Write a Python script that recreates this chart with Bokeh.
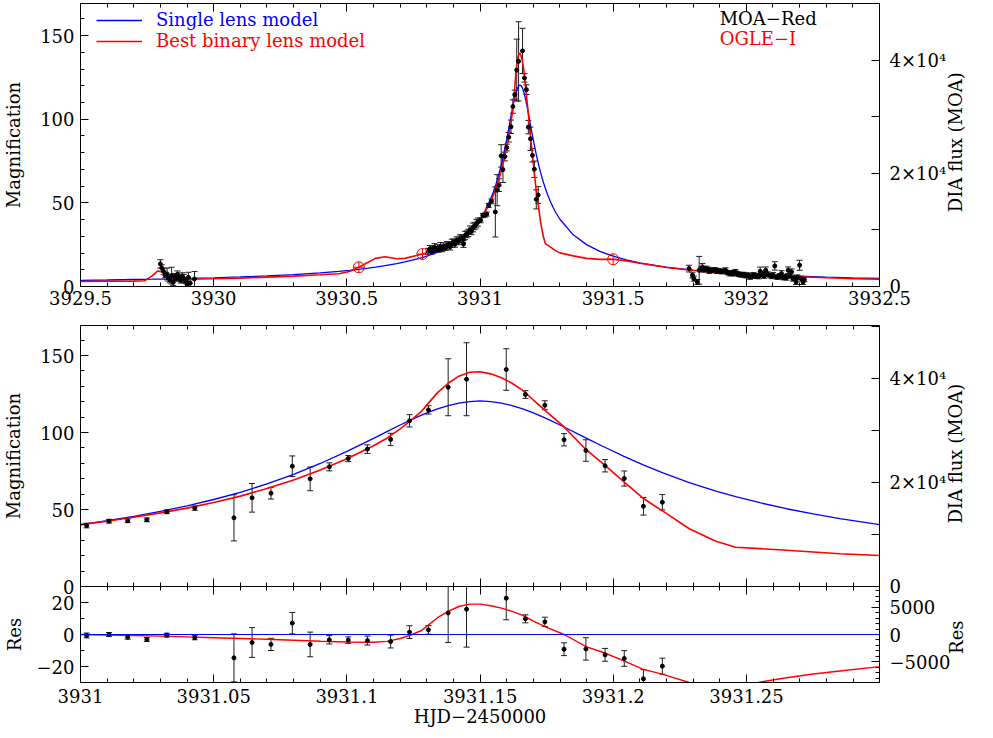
import math
from bokeh.plotting import figure
from bokeh.models import (Range1d, LinearAxis, SingleIntervalTicker, FixedTicker,
                          CustomJSTickFormatter, CustomLabelingPolicy, Whisker, TeeHead,
                          ColumnDataSource, Legend, LegendItem, Label, Span)
from bokeh.layouts import column
from bokeh.embed import file_html
from bokeh.resources import INLINE

FONT = "DejaVu Serif"

# ---------------- data ----------------
# MOA data, left cluster
left_t = [3929.800, 3929.805, 3929.812, 3929.818, 3929.825, 3929.830, 3929.836, 3929.842, 3929.848, 3929.853,
          3929.858, 3929.864, 3929.870, 3929.876, 3929.882, 3929.888, 3929.895, 3929.900, 3929.905, 3929.912, 3929.928]
left_mag = [13.5, 11.0, 9.0, 6.8, 7.5, 5.2, 4.0, 6.5, 2.5, 5.8, 4.6, 7.3, 5.4, 3.6, 6.2, 4.8, 3.2, 1.2, 5.5, 2.0, 4.5]
left_err = [2.5, 2.0, 2.0, 1.5, 3.5, 2.0, 1.8, 5.0, 2.0, 2.0, 1.5, 2.0, 1.5, 1.5, 2.0, 2.5, 1.5, 1.5, 3.0, 2.0, 4.5]

# MOA data, rising part before the peak night
rise_t = [3930.805, 3930.812, 3930.818, 3930.824, 3930.829, 3930.835, 3930.841, 3930.846, 3930.852, 3930.858,
          3930.864, 3930.870, 3930.876, 3930.882, 3930.888, 3930.894, 3930.900, 3930.906, 3930.912, 3930.918,
          3930.924, 3930.930, 3930.936, 3930.938, 3930.944, 3930.950, 3930.956, 3930.962, 3930.968, 3930.974,
          3930.980, 3930.986, 3930.992]
rise_mag = [21.0, 22.5, 20.8, 22.0, 23.4, 21.9, 23.0, 22.1, 23.9, 22.6, 24.1, 23.2, 24.6, 25.0, 23.8, 25.8,
            26.4, 25.3, 27.5, 27.0, 28.4, 29.0, 28.2, 25.4, 30.5, 31.2, 32.0, 33.8, 33.0, 35.3, 36.2, 37.5, 38.5]
rise_err = [1.8, 2.0, 1.5, 1.8, 2.2, 1.6, 2.0, 1.5, 2.4, 1.8, 2.0, 1.6, 2.2, 1.8, 2.0, 2.5, 2.0, 1.8, 2.2,
            2.0, 2.4, 2.0, 1.8, 2.0, 2.5, 2.0, 2.2, 2.4, 2.0, 2.6, 2.2, 2.5, 2.4]

# MOA data around the peak (shown in the zoom panels)
mid_t = [3931.0023, 3931.0107, 3931.0177, 3931.0249, 3931.0324, 3931.0429, 3931.0576, 3931.0644, 3931.0715,
         3931.0795, 3931.0862, 3931.0934, 3931.1005, 3931.1077, 3931.1164, 3931.1235, 3931.1306, 3931.1380,
         3931.1449, 3931.1598, 3931.1670, 3931.1743, 3931.1815, 3931.1897, 3931.1969, 3931.2041, 3931.2113,
         3931.2184]
mid_mag = [39.6, 42.4, 42.7, 43.3, 48.5, 50.9, 44.6, 57.6, 60.6, 78.1, 69.9, 77.7, 83.1, 89.2, 95.5, 107.6,
           114.7, 129.4, 134.6, 140.9, 124.7, 117.7, 95.3, 88.3, 78.4, 70.1, 52.1, 54.7]
mid_err = [1.5, 1.2, 1.2, 1.2, 1.2, 1.4, 15.0, 9.3, 3.8, 6.7, 7.7, 2.6, 2.0, 2.8, 4.0, 4.0, 2.7, 18.5, 23.7,
           13.5, 2.5, 2.9, 4.0, 7.0, 4.0, 4.9, 5.7, 5.0]
mid_res = [-0.6, 0.0, -1.7, -3.1, -0.4, -1.9, -14.6, -5.0, -6.2, 7.1, -6.2, -3.3, -3.5, -3.8, -4.4, 1.5, 2.9,
           13.5, 15.8, 22.7, 9.8, 7.9, -9.2, -9.0, -12.7, -15.0, -27.7, -19.8]

# MOA data, right cluster
right_t = [3931.785, 3931.798, 3931.803, 3931.816, 3931.823, 3931.830, 3931.835, 3931.843, 3931.847, 3931.855,
           3931.860, 3931.866, 3931.872, 3931.878, 3931.885, 3931.890, 3931.896, 3931.903, 3931.908, 3931.915,
           3931.922, 3931.928, 3931.934, 3931.940, 3931.946, 3931.952, 3931.959, 3931.965, 3931.971, 3931.977,
           3931.983, 3931.990, 3931.996, 3932.002, 3932.008, 3932.014, 3932.020, 3932.027, 3932.033, 3932.040,
           3932.046, 3932.052, 3932.058, 3932.064, 3932.067, 3932.073, 3932.080, 3932.089, 3932.095, 3932.101,
           3932.107, 3932.114, 3932.120, 3932.126, 3932.132, 3932.138, 3932.145, 3932.151, 3932.157, 3932.163,
           3932.170, 3932.175, 3932.181, 3932.187, 3932.192, 3932.200, 3932.206, 3932.213, 3932.218]
right_mag = [10.7, 6.7, 4.7, 2.7, 9.7, 10.2, 11.7, 9.8, 10.7, 10.4, 9.1, 9.7, 9.5, 10.0, 9.7, 9.0, 9.3, 9.1,
             8.8, 9.2, 9.7, 8.5, 8.1, 7.7, 8.3, 7.6, 8.7, 7.9, 7.3, 7.1, 6.9, 7.2, 6.7, 6.4, 6.8, 5.7, 6.1,
             7.0, 6.3, 6.6, 5.9, 9.1, 6.9, 7.7, 6.2, 9.7, 7.4, 6.7, 6.0, 6.8, 12.3, 5.6, 5.7, 6.3, 7.7, 5.2,
             6.0, 5.3, 9.7, 6.4, 8.7, 4.7, 5.0, 2.7, 5.6, 12.7, 4.7, 2.7, 4.2]
right_err = [2.0, 1.5, 1.5, 1.5, 8.3, 1.5, 2.0, 1.2, 1.5, 1.3, 1.2, 1.4, 1.2, 1.3, 1.5, 1.2, 1.3, 1.4, 1.2,
             1.3, 1.5, 1.2, 1.3, 1.4, 1.2, 1.3, 1.5, 1.2, 1.3, 1.4, 1.2, 1.3, 1.5, 1.2, 1.3, 1.4, 1.2, 1.3,
             1.5, 1.2, 1.3, 2.5, 1.2, 1.5, 1.3, 2.0, 1.4, 1.2, 1.3, 1.5, 2.5, 1.2, 1.3, 1.4, 1.8, 1.2, 1.3,
             1.5, 2.0, 1.4, 1.8, 1.5, 1.2, 1.5, 1.3, 3.0, 1.5, 1.5, 1.3]

# OGLE-I points
ogle_t = [3930.545, 3930.784, 3931.500]
ogle_mag = [11.5, 19.4, 16.3]

# Models: left wing, peak night, right wing
lw_t = [3929.50, 3929.60, 3929.70, 3929.74, 3929.77, 3929.79, 3929.81, 3929.83, 3929.86, 3929.90, 3930.00,
        3930.10, 3930.20, 3930.30, 3930.40, 3930.47, 3930.51, 3930.545, 3930.58, 3930.607, 3930.644, 3930.687,
        3930.718, 3930.784, 3930.85, 3930.90, 3930.95]
lw_single = [3.7, 3.9, 4.2, 4.3, 4.35, 4.4, 4.45, 4.5, 4.6, 4.8, 5.2, 5.7, 6.3, 7.1, 8.1, 9.1, 9.7, 10.3, 11.0,
             11.6, 12.5, 13.7, 14.7, 17.3, 21.0, 25.0, 30.9]
lw_binary = [3.0, 3.1, 3.2, 3.4, 6.5, 9.3, 8.6, 6.2, 4.5, 4.3, 4.6, 5.0, 5.6, 6.2, 7.0, 7.6, 9.0, 11.5, 14.5,
             16.8, 17.8, 16.6, 16.8, 19.4, 22.4, 25.8, 30.9]

pk_t = [3931.000, 3931.010, 3931.020, 3931.030, 3931.040, 3931.050, 3931.060, 3931.070, 3931.080, 3931.090,
        3931.100, 3931.110, 3931.115, 3931.120, 3931.124, 3931.128, 3931.131, 3931.134, 3931.138, 3931.142,
        3931.146, 3931.150, 3931.154, 3931.158, 3931.162, 3931.166, 3931.170, 3931.175, 3931.1815, 3931.190,
        3931.196, 3931.204, 3931.211, 3931.2186, 3931.2285, 3931.2385, 3931.2459, 3931.255, 3931.265, 3931.275,
        3931.285, 3931.300]
pk_single = [40.2, 42.7, 45.6, 48.8, 52.4, 56.5, 61.2, 66.6, 72.8, 79.9, 87.7, 96.2, 100.6, 104.9, 108.2, 111.3,
             113.4, 115.4, 117.5, 119.1, 120.1, 120.5, 120.1, 119.1, 117.5, 115.4, 112.8, 109.0, 103.6, 96.2,
             91.1, 84.5, 79.1, 73.8, 67.5, 62.0, 58.4, 54.4, 50.5, 47.1, 44.1, 40.2]
pk_binary = [40.2, 42.4, 45.0, 47.8, 50.9, 54.5, 58.7, 63.6, 69.2, 75.7, 83.0, 91.4, 96.3, 102.4, 107.9, 113.8,
             119.9, 125.9, 132.0, 136.6, 139.1, 139.5, 138.1, 135.6, 132.0, 127.4, 121.1, 113.4, 103.6, 88.5,
             80.0, 68.0, 57.5, 48.9, 37.5, 29.4, 25.5, 24.6, 23.5, 22.4, 21.3, 20.1]

rw_t = [3931.35, 3931.40, 3931.45, 3931.50, 3931.55, 3931.60, 3931.70, 3931.80, 3931.90, 3932.00, 3932.10,
        3932.20, 3932.30, 3932.40, 3932.50]
rw_single = [30.9, 25.05, 21.0, 18.1, 15.9, 14.15, 11.6, 9.85, 8.56, 7.57, 6.78, 6.15, 5.63, 5.19, 4.82]
rw_binary = [18.3, 16.8, 16.2, 16.3, 15.3, 13.9, 11.4, 9.6, 8.3, 7.3, 6.5, 5.8, 5.2, 4.7, 4.3]

# ---------------- helpers ----------------
W = 980
ML, MR = 78, 96
ERRC = "#1e1e1e"
AX_PROPS = LinearAxis.properties()
HAS_ORIENT = "axis_label_orientation" in AX_PROPS
HAS_ALIGN = "axis_label_align" in AX_PROPS
NBSP = "\u00a0"

hide_labels = CustomLabelingPolicy(code="""
try { const n = indices.size; for (let i = 0; i < n; i++) { indices.unset(i) } } catch (e) {}
return indices
""")
num_fmt = CustomJSTickFormatter(code="return (Math.round(tick * 1000) / 1000).toString()")


def style_axis(ax, major_in=8, minor_in=4, labels=True, standoff=6):
    ax.major_tick_in = major_in
    ax.major_tick_out = 0
    ax.minor_tick_in = minor_in
    ax.minor_tick_out = 0
    ax.axis_line_color = "black"
    ax.major_tick_line_color = "black"
    ax.minor_tick_line_color = "black"
    ax.axis_label_text_font = FONT
    ax.axis_label_text_font_size = "18px"
    ax.axis_label_text_font_style = "normal"
    ax.axis_label_text_color = "black"
    ax.major_label_text_font = FONT
    ax.major_label_text_color = "black"
    if labels:
        ax.major_label_text_font_size = "18px"
        ax.major_label_standoff = standoff
    else:
        ax.major_label_text_font_size = "0px"
        ax.major_label_standoff = 0
        ax.major_label_policy = hide_labels


def right_title(ax, text, standoff, pad=0):
    ax.axis_label_standoff = standoff
    if HAS_ORIENT and HAS_ALIGN:
        # bottom-to-top reading; anchored at the bottom of the axis and lifted with
        # non-breaking spaces so that it sits where the reference puts it
        ax.axis_label_orientation = math.pi / 2
        ax.axis_label_align = "start"
        ax.axis_label = NBSP * pad + text
    else:
        ax.axis_label = text


def add_errorbars(p, t, y, e, color=ERRC):
    src = ColumnDataSource(dict(t=t, lo=[a - b for a, b in zip(y, e)], hi=[a + b for a, b in zip(y, e)]))
    w = Whisker(base="t", lower="lo", upper="hi", source=src, dimension="height",
                line_color=color, line_width=1,
                upper_head=TeeHead(size=6, line_color=color, line_width=1),
                lower_head=TeeHead(size=6, line_color=color, line_width=1))
    p.add_layout(w)


def base_fig(height, xr, yr, bt, bb, **kw):
    p = figure(width=W, height=height, x_range=xr, y_range=yr, output_backend="svg",
               toolbar_location=None, min_border_left=ML, min_border_right=MR,
               min_border_top=bt, min_border_bottom=bb, **kw)
    p.xgrid.visible = False
    p.ygrid.visible = False
    p.outline_line_color = "black"
    return p


# ---------------- top panel ----------------
TOPMAX = 169.2
top = base_fig(325, Range1d(3929.4999, 3932.5001), Range1d(0, TOPMAX), 3, 39)
top.extra_y_ranges = {"flux": Range1d(0, TOPMAX * 296)}
xa = top.xaxis[0]
xa.ticker = SingleIntervalTicker(interval=0.5, num_minor_ticks=5)
xa.formatter = num_fmt
style_axis(xa, standoff=4)
ya = top.yaxis[0]
ya.ticker = SingleIntervalTicker(interval=50, num_minor_ticks=5)
ya.axis_label = "Magnification"
style_axis(ya)
ya.axis_label_standoff = 13
ta = LinearAxis(ticker=SingleIntervalTicker(interval=0.5, num_minor_ticks=5))
style_axis(ta, labels=False)
top.add_layout(ta, "above")
ra = LinearAxis(y_range_name="flux",
                ticker=FixedTicker(ticks=[0, 20000, 40000], minor_ticks=[10000, 30000, 50000]))
ra.major_label_overrides = {0: "0", 20000: "2×10⁴", 40000: "4×10⁴"}
style_axis(ra, minor_in=8, standoff=10)
right_title(ra, "DIA flux (MOA)", 6, pad=13)
top.add_layout(ra, "right")

top_t = lw_t + pk_t + rw_t
top_single = lw_single + pk_single + rw_single
top_binary = lw_binary + pk_binary + rw_binary
r_single = top.line(top_t, top_single, line_color="#0000ff", line_width=1.3)
r_binary = top.line(top_t, top_binary, line_color="#ff0000", line_width=1.6)

all_t = left_t + rise_t + mid_t + right_t
all_mag = left_mag + rise_mag + mid_mag + right_mag
all_err = left_err + rise_err + mid_err + right_err
add_errorbars(top, all_t, all_mag, all_err)
top.scatter(all_t, all_mag, size=4, color="black")
top.scatter(ogle_t, ogle_mag, marker="circle_cross", size=11, line_color="#ff0000",
            fill_alpha=0, line_width=1)

for rend, lab, col, loc in [(r_single, "Single lens model", "#0000ff", (16, 256)),
                            (r_binary, "Best binary lens model", "#ff0000", (16, 235))]:
    lg = Legend(items=[LegendItem(label=lab, renderers=[rend])], location=loc,
                border_line_alpha=0, background_fill_alpha=0, padding=0, margin=0, spacing=0,
                glyph_width=46, glyph_height=20, label_height=20, label_standoff=14,
                label_text_font=FONT, label_text_font_size="18px", label_text_color=col)
    top.add_layout(lg)

top.add_layout(Label(x=3931.90, y=160.2, text="MOA−Red", text_font=FONT, text_font_size="18px",
                     text_baseline="middle", text_color="black"))
top.add_layout(Label(x=3931.90, y=148.4, text="OGLE−I", text_font=FONT, text_font_size="18px",
                     text_baseline="middle", text_color="#ff0000"))

# ---------------- middle panel ----------------
MIDMAX = 169.5
GAP = 11
zx = Range1d(3931.0, 3931.2999)
mid = base_fig(261 + GAP, zx, Range1d(0, MIDMAX), 0, GAP)
mid.extra_y_ranges = {"flux": Range1d(0, MIDMAX * 296)}
xa = mid.xaxis[0]
xa.ticker = SingleIntervalTicker(interval=0.05, num_minor_ticks=5)
style_axis(xa, labels=False)
ya = mid.yaxis[0]
ya.ticker = SingleIntervalTicker(interval=50, num_minor_ticks=5)
ya.axis_label = "Magnification"
style_axis(ya)
ya.axis_label_standoff = 13
ta = LinearAxis(ticker=SingleIntervalTicker(interval=0.05, num_minor_ticks=5))
style_axis(ta, labels=False)
mid.add_layout(ta, "above")
ra = LinearAxis(y_range_name="flux",
                ticker=FixedTicker(ticks=[0, 20000, 40000], minor_ticks=[10000, 30000, 50000]))
ra.major_label_overrides = {0: "0", 20000: "2×10⁴", 40000: "4×10⁴"}
style_axis(ra, minor_in=8, standoff=10)
right_title(ra, "DIA flux (MOA)", 6, pad=11)
mid.add_layout(ra, "right")

mid.line(pk_t, pk_single, line_color="#0000ff", line_width=1.3)
mid.line(pk_t, pk_binary, line_color="#ff0000", line_width=1.6)
add_errorbars(mid, mid_t, mid_mag, mid_err)
mid.scatter(mid_t, mid_mag, size=4, color="black")

# ---------------- residual panel ----------------
res = base_fig(144, zx, Range1d(-30, 30), 0, 48, styles={"margin-top": f"-{GAP}px"})
res.background_fill_alpha = 0
res.border_fill_alpha = 0
res.extra_y_ranges = {"flux": Range1d(-30 * 291, 30 * 291)}
xa = res.xaxis[0]
xa.ticker = SingleIntervalTicker(interval=0.05, num_minor_ticks=5)
xa.formatter = num_fmt
xa.axis_label = "HJD−2450000"
style_axis(xa, standoff=6)
xa.axis_label_standoff = 0
ya = res.yaxis[0]
ya.ticker = SingleIntervalTicker(interval=20, num_minor_ticks=2)
ya.major_label_overrides = {-20: "−20"}
ya.axis_label = "Res"
style_axis(ya)
ya.axis_label_standoff = 9
ta = LinearAxis(ticker=SingleIntervalTicker(interval=0.05, num_minor_ticks=5))
style_axis(ta, labels=False)
res.add_layout(ta, "above")
ra = LinearAxis(y_range_name="flux", ticker=SingleIntervalTicker(interval=5000, num_minor_ticks=5))
ra.major_label_overrides = {-5000: "−5000"}
style_axis(ra, standoff=10)
right_title(ra, "Res", 3, pad=5)
res.add_layout(ra, "right")

res.add_layout(Span(location=0, dimension="width", line_color="#0000ff", line_width=1.2))
res_model = [b - s for b, s in zip(pk_binary, pk_single)]
res.line(pk_t, res_model, line_color="#ff0000", line_width=1.4)
add_errorbars(res, mid_t, mid_res, mid_err)
res.scatter(mid_t, mid_res, size=4, color="black")

page = column(top, mid, res, spacing=0)
open("out.html", "w").write(file_html(page, INLINE))
